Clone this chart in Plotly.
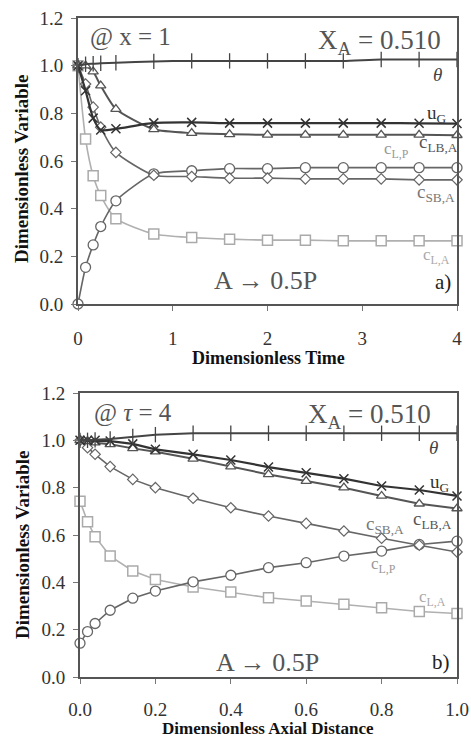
import plotly.graph_objects as go

# ---------------- data ----------------
tau = [0, 0.08, 0.16, 0.24, 0.4, 0.8, 1.2, 1.6, 2.0, 2.4, 2.8, 3.2, 3.6, 4.0]
a_theta = [1.0, 1.006, 1.008, 1.01, 1.012, 1.018, 1.02, 1.02, 1.02, 1.02, 1.02, 1.026, 1.026, 1.026]
a_uG = [1.0, 0.895, 0.78, 0.73, 0.735, 0.76, 0.762, 0.759, 0.759, 0.759, 0.759, 0.759, 0.758, 0.757]
a_cLBA = [1.0, 1.0, 0.975, 0.916, 0.818, 0.733, 0.717, 0.712, 0.71, 0.71, 0.71, 0.71, 0.71, 0.708]
a_cSBA = [1.0, 0.923, 0.826, 0.742, 0.636, 0.540, 0.535, 0.528, 0.528, 0.525, 0.525, 0.525, 0.521, 0.521]
a_cLP = [0.0, 0.154, 0.248, 0.325, 0.433, 0.546, 0.559, 0.568, 0.568, 0.572, 0.572, 0.572, 0.572, 0.572]
a_cLA = [1.0, 0.692, 0.538, 0.455, 0.358, 0.294, 0.279, 0.272, 0.268, 0.268, 0.265, 0.265, 0.265, 0.265]

zeta = [0, 0.02, 0.04, 0.08, 0.14, 0.2, 0.3, 0.4, 0.5, 0.6, 0.7, 0.8, 0.9, 1.0]
b_theta = [1.0, 1.0, 1.002, 1.006, 1.016, 1.024, 1.03, 1.03, 1.03, 1.03, 1.03, 1.03, 1.03, 1.03]
b_uG = [1.0, 1.0, 1.0, 0.997, 0.985, 0.962, 0.941, 0.917, 0.887, 0.863, 0.838, 0.807, 0.79, 0.765]
b_cLBA = [1.0, 0.997, 0.99, 0.983, 0.966, 0.952, 0.922, 0.889, 0.856, 0.828, 0.8, 0.765, 0.732, 0.712]
b_cSBA = [1.0, 0.969, 0.941, 0.889, 0.835, 0.8, 0.755, 0.715, 0.68, 0.649, 0.617, 0.586, 0.557, 0.528]
b_cLP = [0.143, 0.192, 0.226, 0.282, 0.333, 0.363, 0.402, 0.43, 0.462, 0.483, 0.511, 0.532, 0.56, 0.574]
b_cLA = [0.743, 0.656, 0.593, 0.511, 0.448, 0.412, 0.38, 0.359, 0.335, 0.321, 0.307, 0.293, 0.277, 0.268]

y_ticks = [0.0, 0.2, 0.4, 0.6, 0.8, 1.0, 1.2]
xa_ticks = [0, 1, 2, 3, 4]
xb_ticks = [0.0, 0.2, 0.4, 0.6, 0.8, 1.0]

SERIF = "Liberation Serif"

fig = go.Figure()

def add_panel(x, theta, uG, cLBA, cSBA, cLP, cLA, xa, ya, shape):
    common = dict(xaxis=xa, yaxis=ya, mode="lines+markers", showlegend=False, cliponaxis=False)
    fig.add_trace(go.Scatter(x=x, y=cLA, line=dict(color="#b0b0b0", width=1.6, shape=shape, smoothing=0.6),
                             marker=dict(symbol="square", size=10, color="white", line=dict(color="#aaaaaa", width=1.5)), **common))
    fig.add_trace(go.Scatter(x=x, y=cLP, line=dict(color="#666666", width=1.6, shape=shape, smoothing=0.6),
                             marker=dict(symbol="circle", size=10, color="white", line=dict(color="#666666", width=1.3)), **common))
    fig.add_trace(go.Scatter(x=x, y=cSBA, line=dict(color="#666666", width=1.6, shape=shape, smoothing=0.6),
                             marker=dict(symbol="diamond", size=8, color="white", line=dict(color="#666666", width=1.2)), **common))
    fig.add_trace(go.Scatter(x=x, y=cLBA, line=dict(color="#555555", width=2, shape=shape, smoothing=0.6),
                             marker=dict(symbol="triangle-up", size=9, color="white", line=dict(color="#555555", width=1.3)), **common))
    fig.add_trace(go.Scatter(x=x, y=uG, line=dict(color="#333333", width=2.2, shape=shape, smoothing=0.6),
                             marker=dict(symbol="x-thin", size=9, color="#333333", line=dict(color="#333333", width=1.5)), **common))
    fig.add_trace(go.Scatter(x=x, y=theta, line=dict(color="#444444", width=2, shape=shape, smoothing=0.6),
                             marker=dict(symbol="line-ns", size=11, color="#444444", line=dict(color="#444444", width=1.3)), **common))

add_panel(tau, a_theta, a_uG, a_cLBA, a_cSBA, a_cLP, a_cLA, "x", "y", "spline")
add_panel(zeta, b_theta, b_uG, b_cLBA, b_cSBA, b_cLP, b_cLA, "x2", "y2", "linear")

W, H = 471, 738
axis_common = dict(showline=True, mirror=True, linecolor="#555555", linewidth=2, showgrid=False, zeroline=False,
                   automargin=False, ticks="outside", ticklen=5, tickcolor="#777777", tickwidth=1,
                   tickfont=dict(family=SERIF, size=19, color="#333333"))

fig.update_layout(
    width=W, height=H, margin=dict(l=0, r=0, t=0, b=0, autoexpand=False),
    paper_bgcolor="white", plot_bgcolor="white",
    xaxis=dict(domain=[78 / W, 457 / W], range=[0, 4], tickvals=xa_ticks, anchor="y",
               ticklabelstandoff=11, **axis_common),
    yaxis=dict(domain=[1 - 304 / H, 1 - 18 / H], range=[0, 1.2], tickvals=y_ticks, tickformat=".1f", anchor="x",
               ticklabelstandoff=4, **axis_common),
    xaxis2=dict(domain=[80 / W, 457 / W], range=[0, 1], tickvals=xb_ticks, tickformat=".1f", anchor="y2",
                ticklabelstandoff=9, **axis_common),
    yaxis2=dict(domain=[1 - 677 / H, 1 - 393 / H], range=[0, 1.2], tickvals=y_ticks, tickformat=".1f", anchor="x2",
                ticklabelstandoff=4, **axis_common),
)

def ann(text, x, y, size, color="#555555", xanchor="center", **kw):
    fig.add_annotation(text=text, x=x / W, y=1 - y / H, xref="paper", yref="paper", showarrow=False,
                       xanchor=xanchor, yanchor="middle",
                       font=dict(family=SERIF, size=size, color=color), **kw)

# axis titles
ann("<b>Dimensionless Time</b>", 268, 358, 18, "#111111")
ann("<b>Dimensionless Axial Distance</b>", 268, 728, 17, "#111111")
ann("<b>Dimensionless Variable</b>", 22, 169, 19, "#111111", textangle=-90)
ann("<b>Dimensionless Variable</b>", 22, 545, 19, "#111111", textangle=-90)

# panel a labels
ann("@ x = 1", 88, 37, 25, "#555555", xanchor="left")
ann("X<sub>A</sub> = 0.510", 443, 42, 27, "#555555", xanchor="right")
ann("<i>θ</i>", 437, 75, 19, "#444444")
ann("u<sub>G</sub>", 437, 114, 19, "#333333")
ann("c<sub>LB,A</sub>", 438, 143, 19, "#555555")
ann("c<sub>L,P</sub>", 396, 150, 17, "#999999")
ann("c<sub>SB,A</sub>", 436, 193, 19, "#777777")
ann("c<sub>L,A</sub>", 436, 256, 17, "#aaaaaa")
ann("A → 0.5P", 265, 280, 26, "#555555")
ann("a)", 443, 282, 21, "#222222")

# panel b labels
ann("@ <i>τ</i> = 4", 92, 413, 25, "#555555", xanchor="left")
ann("X<sub>A</sub> = 0.510", 433, 416, 27, "#555555", xanchor="right")
ann("<i>θ</i>", 433, 447, 19, "#444444")
ann("u<sub>G</sub>", 440, 483, 19, "#333333")
ann("c<sub>LB,A</sub>", 432, 520, 19, "#555555")
ann("c<sub>SB,A</sub>", 385, 525, 19, "#777777")
ann("c<sub>L,P</sub>", 383, 565, 17, "#999999")
ann("c<sub>L,A</sub>", 432, 598, 17, "#aaaaaa")
ann("A → 0.5P", 267, 662, 26, "#555555")
ann("b)", 441, 662, 21, "#222222")

fig.write_html("out.html", config={"displayModeBar": False},
               post_script="document.body.style.margin='0px';document.body.style.overflow='hidden';")
